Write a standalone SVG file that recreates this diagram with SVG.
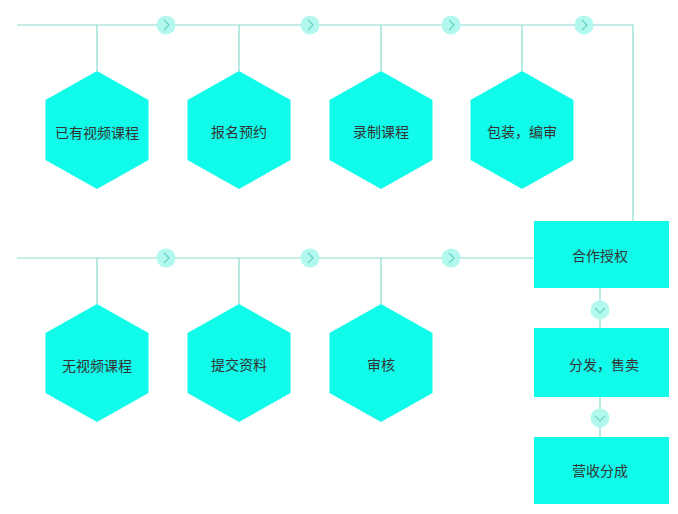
<svg xmlns="http://www.w3.org/2000/svg" width="678" height="514" viewBox="0 0 678 514">
<defs>
<style>
.ln{stroke:#88dccd;stroke-width:1.2;fill:none}
.hex{fill:#10fbea}
.box{fill:#10fbea}
.c{fill:#b2f8ee}
.chev{stroke:#66d3c3;stroke-width:1.2;fill:none}
.t{font-family:"Noto Sans CJK SC","Noto Sans",sans-serif;font-size:14px;fill:#333;text-anchor:middle;dominant-baseline:central}
</style>
<polygon id="hx" class="hex" points="0,-59 51.5,-30 51.5,30 0,59 -51.5,30 -51.5,-30"/>
<g id="cr"><circle class="c" r="9.5"/><path class="chev" d="M-2,-5 L3,0 L-2,5"/></g>
<g id="cd"><circle class="c" r="9.5"/><path class="chev" d="M-5,-2 L0,3 L5,-2"/></g>
</defs>
<g id="connectors">
<path class="ln" d="M17,25 H633 V221"/>
<path class="ln" d="M97,25 V71 M239,25 V71 M381,25 V71 M522,25 V71"/>
<path class="ln" d="M17,258 H534"/>
<path class="ln" d="M97,258 V304 M239,258 V304 M381,258 V304"/>
<path class="ln" d="M600,288 V328 M600,397 V437"/>
<use href="#cr" x="166" y="25"/>
<use href="#cr" x="310" y="25"/>
<use href="#cr" x="451" y="25"/>
<use href="#cr" x="584" y="25"/>
<use href="#cr" x="166" y="258"/>
<use href="#cr" x="310" y="258"/>
<use href="#cr" x="451" y="258"/>
<use href="#cd" x="600" y="310"/>
<use href="#cd" x="600" y="418"/>
</g>
<g id="n1"><use href="#hx" x="97" y="130"/><text class="t" x="97" y="132">已有视频课程</text></g>
<g id="n2"><use href="#hx" x="239" y="130"/><text class="t" x="239" y="131">报名预约</text></g>
<g id="n3"><use href="#hx" x="381" y="130"/><text class="t" x="381" y="131">录制课程</text></g>
<g id="n4"><use href="#hx" x="522" y="130"/><text class="t" x="522" y="131">包装，编审</text></g>
<g id="n5"><use href="#hx" x="97" y="363"/><text class="t" x="97" y="365">无视频课程</text></g>
<g id="n6"><use href="#hx" x="239" y="363"/><text class="t" x="239" y="364">提交资料</text></g>
<g id="n7"><use href="#hx" x="381" y="363"/><text class="t" x="381" y="364">审核</text></g>
<g id="n8"><rect class="box" x="534" y="221" width="135" height="67"/><text class="t" x="600" y="255">合作授权</text></g>
<g id="n9"><rect class="box" x="534" y="328" width="135" height="69"/><text class="t" x="604" y="364">分发，售卖</text></g>
<g id="n10"><rect class="box" x="534" y="437" width="135" height="67"/><text class="t" x="600" y="470">营收分成</text></g>
</svg>
